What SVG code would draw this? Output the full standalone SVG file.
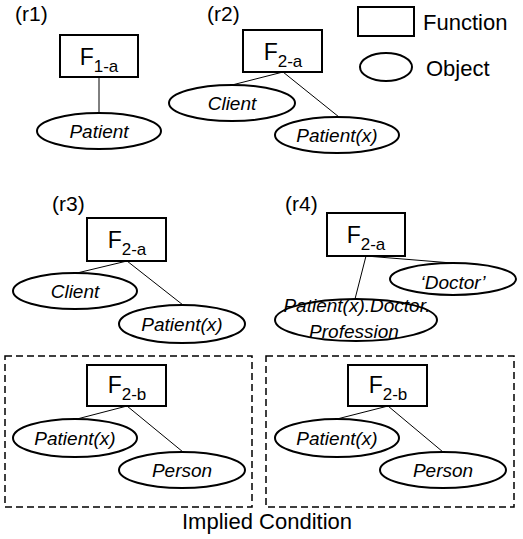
<svg xmlns="http://www.w3.org/2000/svg" width="523" height="539" viewBox="0 0 523 539">
<style>
text{font-family:"Liberation Sans",Arial,sans-serif;fill:#000}
.fn{fill:#fff;stroke:#000;stroke-width:2}
.ob{fill:#fff;stroke:#000;stroke-width:2}
.lbl{font-size:19px;font-style:italic;text-anchor:middle}
.F{font-size:23px;text-anchor:middle}
.sub{font-size:17px}
.tag{font-size:21px}
.leg{font-size:22px}
.cn line{stroke:#000;stroke-width:1}
.dash{fill:none;stroke:#000;stroke-width:1.5;stroke-dasharray:7 4}
</style>
<rect width="523" height="539" fill="#fff"/>
<g id="frames">
<rect class="dash" x="5" y="356" width="247" height="151"/>
<rect class="dash" x="266" y="356" width="248" height="151"/>
</g>
<g id="connectors" class="cn">
<line x1="99" y1="77" x2="99" y2="113"/>
<line x1="283" y1="72" x2="232" y2="85"/>
<line x1="283" y1="72" x2="339" y2="117"/>
<line x1="127" y1="261" x2="77" y2="273"/>
<line x1="127" y1="261" x2="183" y2="305"/>
<line x1="366" y1="256" x2="355" y2="299"/>
<line x1="366" y1="256" x2="452" y2="263"/>
<line x1="127" y1="406" x2="77" y2="419"/>
<line x1="127" y1="406" x2="183" y2="452"/>
<line x1="388" y1="406" x2="337" y2="419"/>
<line x1="388" y1="406" x2="443" y2="452"/>
</g>
<g id="labels">
<text class="tag" x="15" y="21">(r1)</text>
<text class="tag" x="207" y="21">(r2)</text>
<text class="tag" x="52" y="211">(r3)</text>
<text class="tag" x="285" y="211">(r4)</text>
<text x="267" y="529" font-size="22" text-anchor="middle">Implied Condition</text>
</g>
<g id="legend-function">
<rect class="fn" x="358" y="7" width="56" height="29"/>
<text class="leg" x="423" y="30">Function</text>
</g>
<g id="legend-object">
<ellipse class="ob" cx="386" cy="67" rx="26" ry="14"/>
<text class="leg" x="426" y="76">Object</text>
</g>
<g id="r1-F1a">
<rect class="fn" x="60" y="35" width="78" height="42"/>
<text class="F" x="99" y="65">F<tspan class="sub" dy="7">1-a</tspan></text>
</g>
<g id="r1-patient">
<ellipse class="ob" cx="99" cy="131" rx="62" ry="18"/>
<text class="lbl" x="99" y="138">Patient</text>
</g>
<g id="r2-F2a">
<rect class="fn" x="243" y="30" width="79" height="42"/>
<text class="F" x="283" y="60">F<tspan class="sub" dy="7">2-a</tspan></text>
</g>
<g id="r2-client">
<ellipse class="ob" cx="232" cy="103" rx="63" ry="18"/>
<text class="lbl" x="232" y="110">Client</text>
</g>
<g id="r2-patientx">
<ellipse class="ob" cx="337" cy="135" rx="62" ry="18"/>
<text class="lbl" x="337" y="142">Patient(x)</text>
</g>
<g id="r3-F2a">
<rect class="fn" x="87" y="218" width="79" height="43"/>
<text class="F" x="127" y="248">F<tspan class="sub" dy="7">2-a</tspan></text>
</g>
<g id="r3-client">
<ellipse class="ob" cx="75" cy="291" rx="62" ry="18"/>
<text class="lbl" x="75" y="298">Client</text>
</g>
<g id="r3-patientx">
<ellipse class="ob" cx="182" cy="324" rx="63" ry="19"/>
<text class="lbl" x="182" y="331">Patient(x)</text>
</g>
<g id="r4-F2a">
<rect class="fn" x="327" y="213" width="78" height="43"/>
<text class="F" x="366" y="243">F<tspan class="sub" dy="7">2-a</tspan></text>
</g>
<g id="r4-doctor">
<ellipse class="ob" cx="453" cy="279" rx="63" ry="16"/>
<text class="lbl" x="453" y="289">‘Doctor’</text>
</g>
<g id="r4-profession">
<ellipse class="ob" cx="356" cy="320" rx="81" ry="21"/>
<text class="lbl" x="357" y="312">Patient(x).Doctor.</text>
<text class="lbl" x="354" y="338">Profession</text>
</g>
<g id="r3b-F2b">
<rect class="fn" x="87" y="365" width="79" height="41"/>
<text class="F" x="127" y="393">F<tspan class="sub" dy="7">2-b</tspan></text>
</g>
<g id="r3b-patientx">
<ellipse class="ob" cx="75" cy="438" rx="62" ry="19"/>
<text class="lbl" x="75" y="445">Patient(x)</text>
</g>
<g id="r3b-person">
<ellipse class="ob" cx="182" cy="470" rx="63" ry="18"/>
<text class="lbl" x="182" y="477">Person</text>
</g>
<g id="r4b-F2b">
<rect class="fn" x="348" y="365" width="79" height="41"/>
<text class="F" x="388" y="393">F<tspan class="sub" dy="7">2-b</tspan></text>
</g>
<g id="r4b-patientx">
<ellipse class="ob" cx="337" cy="438" rx="62" ry="19"/>
<text class="lbl" x="337" y="445">Patient(x)</text>
</g>
<g id="r4b-person">
<ellipse class="ob" cx="443" cy="470" rx="63" ry="18"/>
<text class="lbl" x="443" y="477">Person</text>
</g>
</svg>
